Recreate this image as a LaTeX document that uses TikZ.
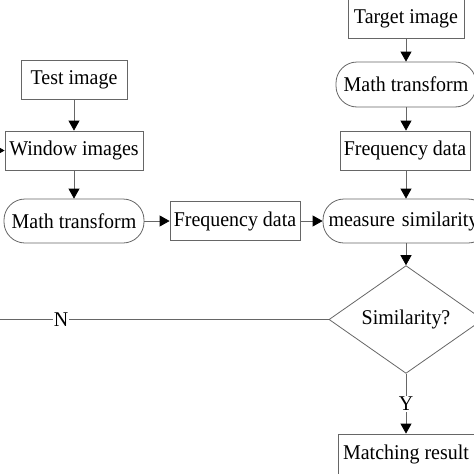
\documentclass[tikz,border=0pt]{standalone}
\usepackage{fontspec}
\setmainfont[FakeStretch=0.95]{Liberation Serif}
\usetikzlibrary{arrows.meta,shapes.geometric}
\begin{document}
\begin{tikzpicture}[x=1pt,y=-1pt,
  every node/.style={font=\fontsize{21}{24}\selectfont, text=black},
  boxnode/.style={draw=black!60, line width=0.8pt, rectangle, inner sep=0pt, minimum height=39pt},
  roundnode/.style={draw=black!60, line width=0.8pt, rectangle, rounded corners=21pt, inner sep=0pt, minimum height=44pt},
  decision/.style={draw=black!60, line width=0.8pt, diamond, inner sep=0pt, minimum width=154pt, minimum height=91pt},
  conn/.style={draw=black!60, line width=0.8pt},
  flow/.style={conn, -{Triangle[length=10pt,width=11pt,color=black]}},
  lbl/.style={fill=white, inner sep=1pt}
]
\useasboundingbox (0,0) rectangle (474,474);
\clip (0,0) rectangle (474,474);
% left column
\node[boxnode, minimum width=106pt] (test) at (74,79.5) {Test image};
\node[boxnode, minimum width=138pt] (window) at (74,150.5) {Window images};
\node[roundnode, minimum width=140pt] (math1) at (74,221) {Math transform};
\node[boxnode, minimum width=130pt] (freq1) at (235,221) {Frequency data};
% right column
\node[boxnode, minimum width=116pt, minimum height=40pt] (target) at (406,18.5) {Target image};
\node[roundnode, minimum width=140pt, minimum height=45pt] (math2) at (406,84.5) {Math transform};
\node[boxnode, minimum width=130pt] (freq2) at (405,150.5) {Frequency data};
\node[roundnode, minimum width=166pt, text width=155pt, align=left] (measure) at (406,221) {\hspace*{0pt}measure similarity};
\node[decision] (dec) at (406,319.5) {Similarity?};
\node[boxnode, minimum width=136pt, minimum height=40pt] (match) at (406,454) {Matching result};
\coordinate (leftin) at (-10,150.5);
\coordinate (leftout) at (-10,319.5);
% connectors
\draw[flow] (leftin) -- (window.west);
\draw[flow] (test) -- (window);
\draw[flow] (window) -- (math1);
\draw[flow] (math1) -- (freq1);
\draw[flow] (freq1) -- (measure);
\draw[flow] (target.south -| math2.north) -- (math2);
\draw[flow] (math2.south) -- (math2.south |- freq2.north);
\draw[flow] (freq2.south -| measure.north) -- (measure);
\draw[flow] (measure) -- (dec);
\draw[flow] (dec) -- node[lbl] {Y} (match);
\draw[conn] (dec.west) -- (leftout) node[lbl, pos=0.79] {N};
\end{tikzpicture}
\end{document}
